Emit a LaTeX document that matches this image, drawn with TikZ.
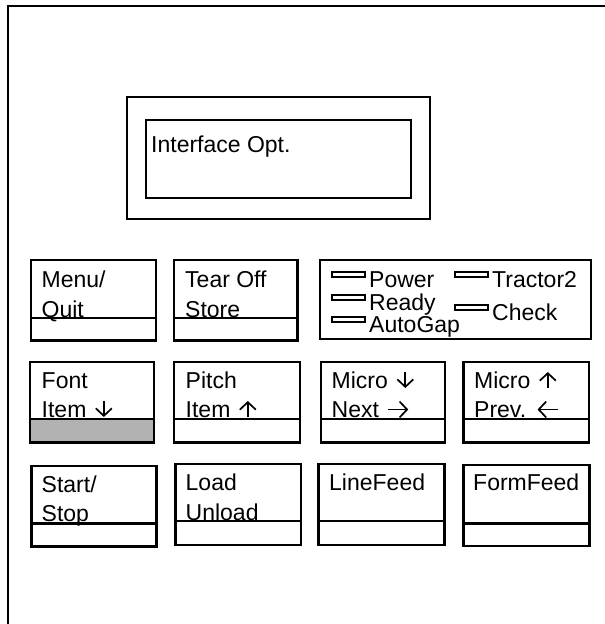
\documentclass[tikz,border=0pt]{standalone}
\usepackage{fontspec}
\setmainfont{Liberation Sans}
\usetikzlibrary{arrows.meta}
\definecolor{keyshade}{gray}{0.7}

\tikzset{
  panel/.style={line width=2.4pt},
  keytxt/.style={anchor=base west, inner sep=0pt, font=\fontsize{23}{23}\selectfont},
  arrowline/.style={line width=1.7pt, -{Straight Barb[length=7.5pt,width=16pt,line width=1.7pt]}},
}
% one key: corners, divider height
\newcommand{\keybox}[5]{%
  \draw[panel] (#1,#2) rectangle (#3,#4);
  \draw[panel] (#1,#5) -- (#3,#5);
}
% small arrow glyph sitting on the baseline
\newcommand{\keyarrow}[2]{\hspace{2pt}\tikz[baseline=0pt,x=1pt,y=1pt]{%
  \path (0,0) rectangle (20,16); \draw[arrowline] #1 -- #2;}}

\begin{document}
\begin{tikzpicture}[x=1pt,y=-1pt]
  \useasboundingbox (0,0) rectangle (605,624);

  % housing edge
  \draw[panel,line width=2.6pt] (8,624) -- (8,6) -- (605,6);

  % display window
  \draw[panel] (127,97) rectangle (430,219);
  \draw[panel] (146,120) rectangle (411,198);
  \node[keytxt] (disp) at (151,152) {Interface Opt.};

  % top row
  \keybox{31}{260}{156}{340.5}{318}
  \node[keytxt] (menu) at (41.5,287) {Menu/};
  \node[keytxt] (quit) at (41.5,317) {Quit};
  \keybox{174}{260}{297.5}{340.5}{318}
  \node[keytxt] (tear) at (185,287) {Tear Off};
  \node[keytxt] (store) at (185,317) {Store};

  % indicator lamps
  \draw[panel] (320,260) rectangle (591,339);
  \foreach \lx/\ly/\name/\txt in {332/272/power/Power, 332/295/ready/Ready,
      332/317/autogap/AutoGap, 455/272/tractor/Tractor2, 455/305/check/Check} {
    \draw[line width=1.9pt] (\lx,\ly) rectangle ({\lx+33},{\ly+5});
    \node[keytxt] (\name) at ({\lx+37},{\ly+15}) {\txt};
  }

  % middle row
  \fill[keyshade] (30,419) rectangle (154,442.5);
  \keybox{30}{362}{154}{442.5}{419}
  \node[keytxt] (font) at (41.5,388) {Font};
  \node[keytxt] (itemdn) at (41.5,417) {Item \keyarrow{(9,16)}{(9,0)}};
  \keybox{174}{362}{300}{442.5}{419}
  \node[keytxt] (pitch) at (185.5,388) {Pitch};
  \node[keytxt] (itemup) at (185.5,417) {Item \keyarrow{(9,0)}{(9,16)}};
  \keybox{321}{362}{445}{442.5}{419}
  \node[keytxt] (microdn) at (331.5,388) {Micro \keyarrow{(9,16)}{(9,0)}};
  \node[keytxt] (next) at (331.5,417) {Next \keyarrow{(0,7.5)}{(20,7.5)}};
  \keybox{463.5}{362}{589}{442.5}{419}
  \node[keytxt] (microup) at (474,388) {Micro \keyarrow{(9,0)}{(9,16)}};
  \node[keytxt] (prev) at (474,417) {Prev. \keyarrow{(20,7.5)}{(0,7.5)}};

  % bottom row
  \keybox{31.5}{466}{156.5}{546.5}{523.5}
  \node[keytxt] (start) at (41.5,492) {Start/};
  \node[keytxt] (stop) at (41.5,521.5) {Stop};
  \keybox{175.5}{464}{301}{545}{521}
  \node[keytxt] (load) at (185.5,490.5) {Load};
  \node[keytxt] (unload) at (185.5,520) {Unload};
  \keybox{318.5}{464}{444.5}{545}{521}
  \node[keytxt] (lf) at (329,490.5) {LineFeed};
  \keybox{463.5}{465}{589.5}{546}{523.5}
  \node[keytxt] (ff) at (473,490.5) {FormFeed};
\end{tikzpicture}
\end{document}
